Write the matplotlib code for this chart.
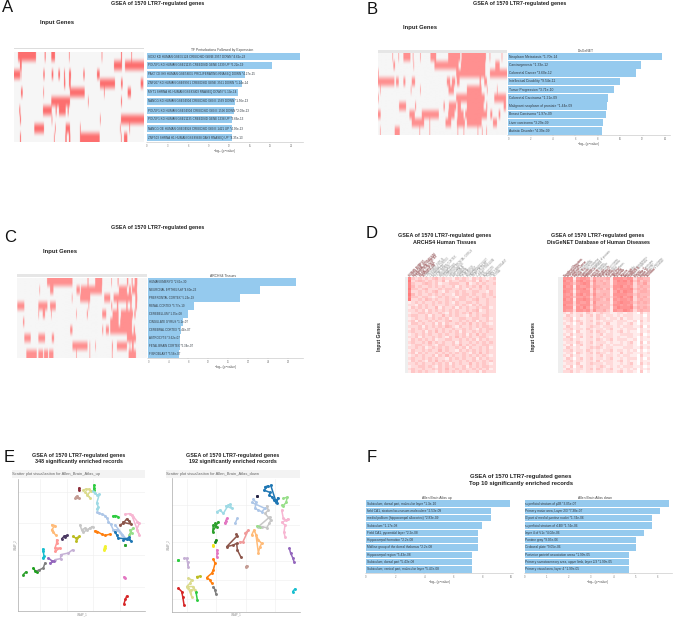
import numpy as np
import matplotlib
matplotlib.use("Agg")
import matplotlib.pyplot as plt
from matplotlib.colors import LinearSegmentedColormap
from matplotlib.patches import Rectangle
from matplotlib.transforms import blended_transform_factory

plt.rcParams['font.family'] = ['Liberation Sans', 'DejaVu Sans']

W, H = 677, 619
TITLE = "GSEA of 1570 LTR7-regulated genes"
INPUT = "Input Genes"
AXIS_X = "\u2212log\u2081\u2080(p\u2212value)"

# ---- panel A data
a_names = ["SOX2 KD HUMAN GSE35124 CREEDSID GENE 2957 DOWN *4.62e-23",
           "POU5F1 KD HUMAN GSE21135 CREEDSID GENE 1339 UP *6.22e-19",
           "PAX7 OE IH9 HUMAN GSE58035 PROLIFERATING RNASEQ DOWN *4.27e-15",
           "ZNF207 KD HUMAN GSE69951 CREEDSID GENE 3561 DOWN *1.14e-14",
           "MYT1 SHRNA H1 HUMAN GSE83403 RNASEQ DOWN *5.13e-14",
           "NANOG KD HUMAN GSE34904 CREEDSID GENE 1569 DOWN *1.56e-13",
           "POU5F1 KD HUMAN GSE34904 CREEDSID GENE 1590 DOWN *2.08e-13",
           "POU5F1 KD HUMAN GSE21135 CREEDSID GENE 1338 UP *3.66e-13",
           "NANOG OE HUMAN GSE34929 CREEDSID GENE 1421 UP *4.30e-13",
           "ZNF503 SHRNA H1 HUMAN GSE89838 DAY9 RNASEQ UP *4.35e-13"]
a_vals = [22.34, 18.21, 14.37, 13.94, 13.29, 12.81, 12.68, 12.44, 12.37, 12.36]
a_hits = [[(54,108),(134,137),(154,165),(207,209),(305,307),(363,366),(394,396)],
          [(60,65),(342,366),(375,432)],
          [(42,60),(62,64),(130,134),(155,160),(175,180),(192,195),(207,213),(250,254),(291,299)],
          [(192,196),(207,212),(300,345),(363,368),(422,430)],
          [(63,68),(130,132),(210,254),(312,314),(383,393)],
          [(154,210),(264,266),(363,366)],
          [(58,61),(129,155),(167,170),(177,197),(203,206)],
          [(60,63),(155,157),(300,302),(363,432)],
          [(103,132),(165,167),(197,210),(240,242),(360,362),(388,390)],
          [(60,63),(162,164),(196,200),(207,211),(240,299),(363,365),(372,382)]]

# ---- panel B data
b_names = ["Neoplasm Metastasis *1.70e-14", "Carcinogenesis *1.33e-12", "Colorectal Cancer *3.60e-12",
           "Intellectual Disability *9.54e-11", "Tumor Progression *3.71e-10", "Colorectal Carcinoma *1.21e-09",
           "Malignant neoplasm of prostate *1.44e-09", "Breast Carcinoma *1.97e-09", "Liver carcinoma *3.29e-09",
           "Autistic Disorder *4.39e-09"]
b_vals = [13.77, 11.88, 11.44, 10.02, 9.43, 8.92, 8.84, 8.71, 8.48, 8.36]
b_hits = [[(157,159),(175,177),(190,211),(218,220),(240,242),(271,288),(324,360),(364,437),(448,450),(484,486)],
          [(160,165),(220,222),(283,355),(362,435),(465,478)],
          [(114,116),(348,435),(449,500)],
          [(114,163),(168,176),(190,196),(215,225),(320,330),(335,345),(350,358),(418,422),(432,440)],
          [(120,122),(212,214),(240,242),(325,341),(380,424),(440,442),(470,472)],
          [(114,116),(348,433),(462,497)],
          [(177,198),(225,228),(310,314),(326,348),(352,362),(380,430),(438,441),(490,497)],
          [(114,122),(208,224),(245,296),(324,343),(352,370),(375,440),(450,456),(475,480)],
          [(215,252),(268,270),(316,333),(350,374),(380,424),(458,470)],
          [(120,122),(164,179),(238,240),(268,270),(352,354),(370,372),(412,414),(425,427),(438,440)]]

# ---- panel C data
c_names = ["HUMAN EMBRYO *2.61e-30", "NEURONAL EPITHELIUM *4.60e-23", "PREFRONTAL CORTEX *5.24e-19",
           "RENAL CORTEX *5.77e-10", "CEREBELLUM *1.35e-08", "CINGULATE GYRUS *1.1e-07", "CEREBRAL CORTEX *1.44e-07",
           "ASTROCYTE *3.62e-07", "FETAL BRAIN CORTEX *5.34e-07", "FIBROBLAST *5.56e-07"]
c_vals = [29.6, 22.34, 18.28, 9.24, 7.87, 6.96, 6.62, 6.44, 6.30, 6.25]
c_hits = [[(141,217),(262,265),(285,306),(333,335),(352,355),(380,384),(394,397),(403,411)],
          [(118,120),(150,160),(229,239),(242,305),(356,380),(386,392),(395,410)],
          [(215,217),(240,270),(312,330),(340,395),(405,411)],
          [(52,73),(115,142),(150,167),(265,267),(333,336),(350,354),(378,382),(390,394),(405,410)],
          [(115,117),(128,135),(153,155),(228,230),(260,263),(306,318),(337,355),(362,398),(402,406)],
          [(69,73),(330,355),(360,395)],
          [(210,217),(306,309),(317,326),(330,395),(400,404)],
          [(73,92),(115,135),(155,162),(380,407)],
          [(217,262),(268,270),(285,287),(335,338),(350,380),(388,390),(395,400)],
          [(79,110),(115,129),(132,144),(147,160),(228,230),(268,270),(335,337),(385,407)]]

# ---- panel D data
d1_cols = ["HUMAN EMBRYO","NEURONAL EPITHELIUM","PREFRONTAL CORTEX","RENAL CORTEX","CEREBELLUM","CINGULATE GYRUS",
           "CEREBRAL CORTEX","ASTROCYTE","FETAL BRAIN CORTEX","FIBROBLAST","SPINAL CORD","SUPERIOR FRONTAL GYRUS",
           "HIPPOCAMPUS","AMYGDALA","PUTAMEN","NEURON","THALAMUS","MYOBLAST","PANCREATIC ISLET","HEART ATRIUM",
           "LUNG EPITHELIUM","LIVER","MONOCYTE","KIDNEY","SKIN FIBROBLAST","RETINA"]
d2_cols = ["Neoplasm Metastasis","Carcinogenesis","Colorectal Cancer","Intellectual Disability","Tumor Progression",
           "Colorectal Carcinoma","Malignant neoplasm of prostate","Breast Carcinoma","Liver carcinoma","Autistic Disorder",
           "Schizophrenia","Mammary Carcinoma","Prostate carcinoma","Glioblastoma","Lung Neoplasms","Melanoma",
           "Leukemia","Seizures","Microcephaly","Neoplasm Invasiveness","Stomach Neoplasms","Epilepsy","Ovarian Carcinoma",
           "Bipolar Disorder","Pancreatic Carcinoma","Alzheimer's Disease"]
d1_rows = ["83232323423221323213232123","92343232324132233223142322","83223432312233322412323223",
           "84232232323223132323242322","93323422232332232132232322","82232323421322323223322132",
           "94232232323221323323223232","83323321232322133232323223","92232432322323233223422322",
           "12323223232321322332322322","22132323222322323213232322","13232322413223132322323312",
           "22323132323232322323412322","12233232232132323242322322","23322313224232322132323322",
           "12322323232312233223322312","23132232322342232323132322","13323223131322323242323212",
           "22231323232432132232323322","13232322323223223232132332","23223132423232313223232322",
           "12323232232322323132423222","22313223232132423232233212","13232323122332232323132322",
           "23223242323223132232323232","12332232133223242323223322","22323123232322323132232312",
           "13223232242322132323232322","23132322323232323213242322","12323223132423223232323212",
           "23223232322132323223132322","13232132423232232323223232","22323223232313232242323212",
           "12233232132323223132323322","23223223232422323223232312","13232322132323232322313222"]
d2_rows = ["77716776264445177767725544","86727867374534168786836354","77636787264454167776725463",
           "86717667365444277867624544","77727786274535176777835453","87616777263444168687724554",
           "76727867374454177776635444","77636676264544267867825453","86717787365435176776724544",
           "77727667274444167877635454","86626777364534277676724443","77717686265444168777835454",
           "76627767374453176687624544","21312213212322112212210312","13212312313212212122211202",
           "22302112213221221312211212","12313212312122212221120312","21202312213213112212310211",
           "13212112322122212122211302","22312213212212311212220211","12203112313221212312110212",
           "21312212212312211222211301","13202312312122212112210212","22312112213212312221120211",
           "12213212312221211212310302","21302312212312122212210211","13212112323212211122211312",
           "22312213212122312212120201","12203212313221211312211212","21312112212312212122110311",
           "13202312312212311212220202","22312212213122212312110211","12213112322212211212310312",
           "21302312212321212122211201","13212212313212311212120212","22312112212212212312210301"]

# ---- panel E data (UMAP positions, with the y axis running downwards)
e1_colors = ["#8c2d3a","#c49c94","#dbdb8d","#2ecc40","#9edae5","#aec7e8","#2ecc40","#f7b6d2","#8c564b","#98df8a",
             "#1f77b4","#2ca02c","#c7c7c7","#ff7f0e","#f2f230","#bcbd22","#4b3a63","#ffbb78","#ff9896","#c5b0d5",
             "#9467bd","#17becf","#7f7f7f","#1ea01e","#2ca02c","#e377c2","#d62728"]
e1_x = [[238,238],[228,232,236,226],[250,258,268,272,262,270,256],[282,282,282],[278,285,292,298,290,295,290],
        [290,298,306,315,322,325,332,340,352,365,378,345],[338,346,354],[375,390,400,412,418,410,418,395],
        [360,370,380,388,394,368],[390,395,388,398],[345,350,355,380,392,388,370],[376,376],
        [240,245,255,262,270,278,250],[285,292,305,315,330],[314,312,316],[218,228,238,228],[185,192,200,195],
        [155,165,155,160,168],[170,170,165,180,165],[218,205,182,182,165],[145,155,162,150],[128,130,132,128],
        [135,130,118,108],[100,105,110],[70,78],[372,376],[380,376,372]]
e1_y = [[220,226],[245,243,250,250],[225,222,222,228,240,248,232],[210,218,225],[228,235,240,238,265,275,283],
        [292,295,298,302,310,320,328,345,345,360,372,330],[304,302,305],[298,296,305,320,325,345,360,300],
        [330,325,312,318,328,322],[345,355,360,340],[350,360,370,372,378,368,375],[390,391],
        [330,345,340,345,340,335,352],[348,350,358,362,358],[395,405,400],[365,370,365,380],[372,365,362,368],
        [330,332,345,352,362],[375,385,400,400,410],[405,415,420,432,435],[430,438,440,445],[403,410,425,430],
        [445,460,466,470],[460,468,472],[480,472],[487,490],[545,555,568]]
e2_colors = ["#1f77b4","#222244","#98df8a","#aec7e8","#c7c7c7","#f7b6d2","#9edae5","#aec7e8","#e377c2","#2ca02c",
             "#1a8a1a","#f2e61a","#e377c2","#8c564b","#f09a9a","#c49c94","#ffbb78","#98df8a","#9467bd","#17becf",
             "#2ecc40","#c5b0d5","#ff7f0e","#bcbd22","#dbdb8d","#7f7f7f","#d62728","#2ecc40"]
e2_x = [[795,805,792,810,808,816,822,830,834,828,812],[772,772],[850,862,858,850,846],[760,768,765,775,785,795,755],
        [800,805,795,812,808,800,785,775,810],[845,850,858,865,845,855,852,855],[650,660,670,685,690,695,678],[712,705],
        [680,675,678],[645,650,640,638,655],[648,646],[640,640],[650,652,650],[708,712,680,700,710,712,722],
        [720,728,745,735],[740,737],[755,762,775,785,780,775,768],[772,780],[868,872,878,882],[885,878],[533,533],
        [552,560,565,563],[640,645,640,635,620,630,635],[590,600],[565,575,570,560,580,585,572,575,565],[640,645,648],
        [535,545,548,552],[588,592]]
e2_y = [[215,212,225,232,240,246,255,265,248,260,210],[243,244],[250,246,262,272,270],[252,262,280,285,290,280,262],
        [272,285,295,315,325,338,335,335,305],[285,310,315,312,322,330,352,365],[290,285,295,270,268,280,272],[310,325],
        [310,325,318],[325,335,330,350,320],[375,380],[391,392],[405,415,425],[358,362,395,390,385,405,425],
        [380,382,345,355],[452,456],[360,345,375,385,395,413,360],[332,335],[400,415,428,440],[522,530],[435,436],
        [430,430,455,440],[432,445,465,475,488,495,505],[485,484],[490,495,505,515,515,525,525,545,520],[515,525,538],
        [520,530,545,570],[532,556]]

# ---- panel F data
f1_names = ["Subiculum, dorsal part, molecular layer *1.3e-10","field CA1, stratum lacunosum-moleculare *2.53e-09",
            "medial pallium (hippocampal allocortex) *2.83e-09","Subiculum *1.17e-08","Field CA1, pyramidal layer *2.2e-08",
            "Hippocampal formation *2.2e-08","Midline group of the dorsal thalamus *2.2e-08","Hippocampal region *5.43e-08",
            "Subiculum, dorsal part *5.43e-08","Subiculum, ventral part, molecular layer *5.43e-08"]
f1_vals = [9.88, 8.60, 8.55, 7.93, 7.66, 7.66, 7.66, 7.27, 7.27, 7.27]
f2_names = ["superficial stratum of p2B *3.05e-07","Primary motor area, Layer 2/3 *7.38e-07",
            "l3 part of medial pontine nuclei *1.74e-06","superficial stratum of r1B0 *1.74e-06","layer 4 of V1c *4.02e-06",
            "Pontine gray *9.05e-06","Orobasal plate *9.05e-06","Posterior parietal association areas *1.99e-05",
            "Primary somatosensory area, upper limb, layer 2/3 *1.99e-05","Primary visual area, layer 4 *1.99e-05"]
f2_vals = [6.52, 6.13, 5.76, 5.76, 5.40, 5.04, 5.04, 4.70, 4.70, 4.70]


def ax_px(fig, x0, y0, x1, y1):
    return fig.add_axes([x0 / W, 1 - y1 / H, (x1 - x0) / W, (y1 - y0) / H])


def txt(fig, x, y, s, size=3.9, weight='bold', color='#222222', ha='center', va='center', **kw):
    return fig.text(x / W, 1 - y / H, s, fontsize=size, fontweight=weight, color=color, ha=ha, va=va, **kw)


def rect(fig, x0, y0, x1, y1, color):
    fig.add_artist(Rectangle((x0 / W, 1 - y1 / H), (x1 - x0) / W, (y1 - y0) / H,
                             transform=fig.transFigure, facecolor=color, edgecolor='none'))


def hits_panel(fig, hits, box, color, span):
    cmap = LinearSegmentedColormap.from_list('h', ['#f6f6f6', color])
    lo, hi = span
    m = np.zeros((len(hits), hi - lo))
    for r, row in enumerate(hits):
        for s, e in row:
            m[r, max(s - lo, 0):e - lo] = 1
    ax = ax_px(fig, *box)
    ax.imshow(m, aspect='auto', cmap=cmap, vmin=0, vmax=1, interpolation='antialiased')
    ax.axis('off')


def bar_panel(fig, names, vals, x0, x_end, x_first, y0, y1, ticks, tsize=2.3, axis_title=None, title_y=None,
              tick_color='#777777'):
    xmax = vals[0] * (x_end - x0) / (x_first - x0)
    ax = ax_px(fig, x0, y0, x_end, y1)
    pos = np.arange(len(vals))
    ax.barh(pos, vals, height=0.88, color='#95caee', edgecolor='none')
    ax.set_ylim(len(vals) - 0.5, -0.5)
    ax.set_xlim(0, xmax)
    for p, n in zip(pos, names):
        ax.text(xmax * 0.004, p, n, fontsize=tsize, color='#303840', va='center', ha='left')
    for s in ['top', 'right', 'left']:
        ax.spines[s].set_visible(False)
    ax.spines['bottom'].set_color('#cccccc')
    ax.spines['bottom'].set_linewidth(0.5)
    ax.set_yticks([])
    ax.set_xticks(ticks)
    ax.tick_params(axis='x', length=1, width=0.3, color='#999999', labelsize=1.9, labelcolor=tick_color, pad=0.6)
    ax.set_xlabel(AXIS_X, fontsize=2.3, color='#555555', labelpad=0.8)
    if axis_title:
        txt(fig, (x0 + x_end) / 2 - 3, title_y, axis_title, size=2.4, weight='normal', color='#444444')
    return ax


def heat_panel(fig, rows, cols, box, strip, red_all, red_chars):
    m = np.array([[int(c) for c in r] for r in rows], float)
    cmap = LinearSegmentedColormap.from_list('d', [(0, '#ffffff'), (0.34, '#ffc6c6'), (1, '#ff7c7c')], N=256)
    ax = ax_px(fig, *box)
    ax.imshow(m, aspect='auto', cmap=cmap, vmin=0, vmax=9, interpolation='nearest')
    ax.axis('off')
    rect(fig, strip, box[1], box[0], box[3], '#eeeeee')
    tr = blended_transform_factory(ax.transData, ax.transAxes)
    for i, c in enumerate(cols):
        ax.text(i, 1.005, c, transform=tr, rotation=45, rotation_mode='anchor', fontsize=1.9, color='#8a8a8a',
                ha='left', va='center', clip_on=False)
        part = c if i < red_all else c[:red_chars]
        if part:
            ax.text(i, 1.005, part, transform=tr, rotation=45, rotation_mode='anchor', fontsize=1.9,
                    color='#b5585c', ha='left', va='center', clip_on=False)


def scatter_panel(fig, colors, xs, ys, box, head_x0, head_x1, head, xl, yl, gx, gy):
    rect(fig, head_x0, 470, head_x1, 477.5, '#f3f3f3')
    txt(fig, head_x0 + 0.5, 473.5, head, size=2.9, weight='normal', color='#666666', ha='left')
    ax = ax_px(fig, *box)
    ax.set_xlim(*xl)
    ax.set_ylim(*yl)
    ax.set_xticks(gx)
    ax.set_yticks(gy)
    ax.grid(True, color='#eeeeee', lw=0.4)
    ax.set_axisbelow(True)
    ax.tick_params(length=0, labelleft=False, labelbottom=False)
    for s in ['top', 'right']:
        ax.spines[s].set_visible(False)
    for s in ['left', 'bottom']:
        ax.spines[s].set_color('#aaaaaa')
        ax.spines[s].set_linewidth(0.5)
    ax.set_xlabel("UMAP_1", fontsize=1.9, color='#888888', labelpad=0.8)
    ax.set_ylabel("UMAP_2", fontsize=1.9, color='#888888', labelpad=0.8)
    for c, x, y in zip(colors, xs, ys):
        ax.plot(x, y, '-', color=c, lw=1.1, solid_capstyle='round')
        ax.scatter(x, y, s=4.5, color=c, linewidths=0)


fig = plt.figure(figsize=(W / 100, H / 100), dpi=100)

# Panel letters
for s, x, y in [("A", 8, 8), ("B", 372, 10), ("C", 10, 237), ("D", 372, 233), ("E", 9, 458), ("F", 372, 457)]:
    txt(fig, x, y, s, size=12, weight='normal', color='#111111')

# A
txt(fig, 158, 3, TITLE)
txt(fig, 57, 22.5, INPUT, size=4.2)
rect(fig, 14, 48, 144, 49, '#dddddd')
hits_panel(fig, a_hits, (14, 52, 144, 142), '#fd6f6f', (42, 432))
bar_panel(fig, a_names, a_vals, 147, 303, 300, 52, 142, [0, 3, 6, 9, 12, 15, 18, 21], tsize=2.15,
          axis_title="TF Perturbations Followed by Expression", title_y=49.5)

# B
txt(fig, 520, 3, TITLE)
txt(fig, 420, 27, INPUT, size=4.2)
rect(fig, 378, 49.5, 506.7, 52.5, '#e6e6e6')
hits_panel(fig, b_hits, (378, 53, 506.7, 135), '#ff9090', (114, 500))
bar_panel(fig, b_names, b_vals, 508.3, 670, 662.3, 52.5, 135, [0, 2, 4, 6, 8, 10, 12, 14], tsize=2.4,
          axis_title="DisGeNET", title_y=50.5)

# C
txt(fig, 158, 228, TITLE)
txt(fig, 60, 252, INPUT, size=4.2)
rect(fig, 17, 274.5, 146.7, 277, '#e6e6e6')
hits_panel(fig, c_hits, (17, 278, 146.7, 358), '#ff9090', (51, 440))
bar_panel(fig, c_names, c_vals, 148.3, 303, 296, 278, 358, [0, 4, 8, 12, 16, 20, 24, 28], tsize=2.1,
          axis_title="ARCHS4 Tissues", title_y=276)

# D
txt(fig, 445, 236, TITLE)
txt(fig, 445, 242.5, "ARCHS4 Human Tissues")
txt(fig, 598, 236, TITLE)
txt(fig, 598, 242.5, "DisGeNET Database of Human Diseases")
txt(fig, 380, 337, INPUT, size=3.6, rotation=90)
txt(fig, 534, 337, INPUT, size=3.6, rotation=90)
heat_panel(fig, d1_rows, d1_cols, (408, 277, 495.7, 373), 405, 5, 0)
heat_panel(fig, d2_rows, d2_cols, (562.7, 277, 649, 373), 558, 3, 9)

# E
txt(fig, 79, 455, TITLE)
txt(fig, 79, 462, "348 significantly enriched records")
txt(fig, 233, 455, TITLE)
txt(fig, 233, 462, "192 significantly enriched records")
scatter_panel(fig, e1_colors, e1_x, e1_y, (18.3, 478.5, 145, 611), 12, 145,
              "Scatter plot visualization for Allen_Brain_Atlas_up", (55, 435), (590, 190),
              [120, 200, 280, 360], [232, 325, 420, 517])
scatter_panel(fig, e2_colors, e2_x, e2_y, (171.7, 478.5, 300, 611.5), 166, 300,
              "Scatter plot visualization for Allen_Brain_Atlas_down", (515, 900), (590, 190),
              [560, 648, 737, 826], [270, 330, 382, 438, 495, 552])

# F
txt(fig, 521, 476.5, TITLE, size=4.2, color='#222222')
txt(fig, 521, 483.5, "Top 10 significantly enriched records", size=4.2)
bar_panel(fig, f1_names, f1_vals, 366, 513, 510, 500, 573, [0, 2, 4, 6, 8, 10], tsize=2.3,
          axis_title="Allen Brain Atlas up", title_y=498)
bar_panel(fig, f2_names, f2_vals, 524.7, 672, 669, 500, 573, [0, 1, 2, 3, 4, 5, 6], tsize=2.3,
          axis_title="Allen Brain Atlas down", title_y=498)

fig.savefig("out.png", dpi=100)
